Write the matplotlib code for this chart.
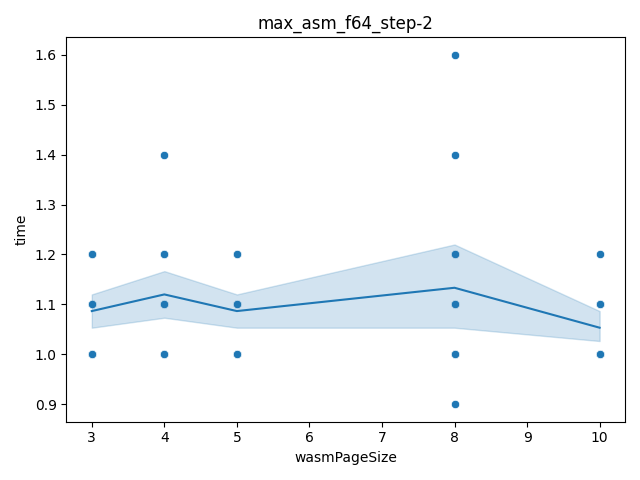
import numpy as np
import pandas as pd
import matplotlib
matplotlib.use("Agg")
import matplotlib.pyplot as plt
import seaborn as sns

size_3 = [1.0, 1.0, 1.0, 1.0, 1.1, 1.1, 1.1, 1.1, 1.1, 1.1, 1.1, 1.1, 1.1, 1.2, 1.2]
size_4 = [1.0, 1.0, 1.0, 1.1, 1.1, 1.1, 1.1, 1.1, 1.1, 1.1, 1.1, 1.2, 1.2, 1.2, 1.4]
size_5 = [1.0, 1.0, 1.0, 1.0, 1.1, 1.1, 1.1, 1.1, 1.1, 1.1, 1.1, 1.1, 1.1, 1.2, 1.2]
size_8 = [0.9, 1.0, 1.0, 1.0, 1.0, 1.1, 1.1, 1.1, 1.1, 1.1, 1.2, 1.2, 1.2, 1.4, 1.6]
size_10 = [1.0, 1.0, 1.0, 1.0, 1.0, 1.0, 1.0, 1.0, 1.1, 1.1, 1.1, 1.1, 1.1, 1.1, 1.2]

sizes = [3, 4, 5, 8, 10]
times = [size_3, size_4, size_5, size_8, size_10]

rows = []
for s, t in zip(sizes, times):
    for v in t:
        rows.append({"wasmPageSize": s, "time": v})
df = pd.DataFrame(rows)

fig, ax = plt.subplots(figsize=(6.4, 4.8), dpi=100)
sns.scatterplot(data=df, x="wasmPageSize", y="time", ax=ax)
sns.lineplot(data=df, x="wasmPageSize", y="time", ax=ax, seed=0)
ax.set_title("max_asm_f64_step-2")
fig.tight_layout()
fig.savefig("out.png")
